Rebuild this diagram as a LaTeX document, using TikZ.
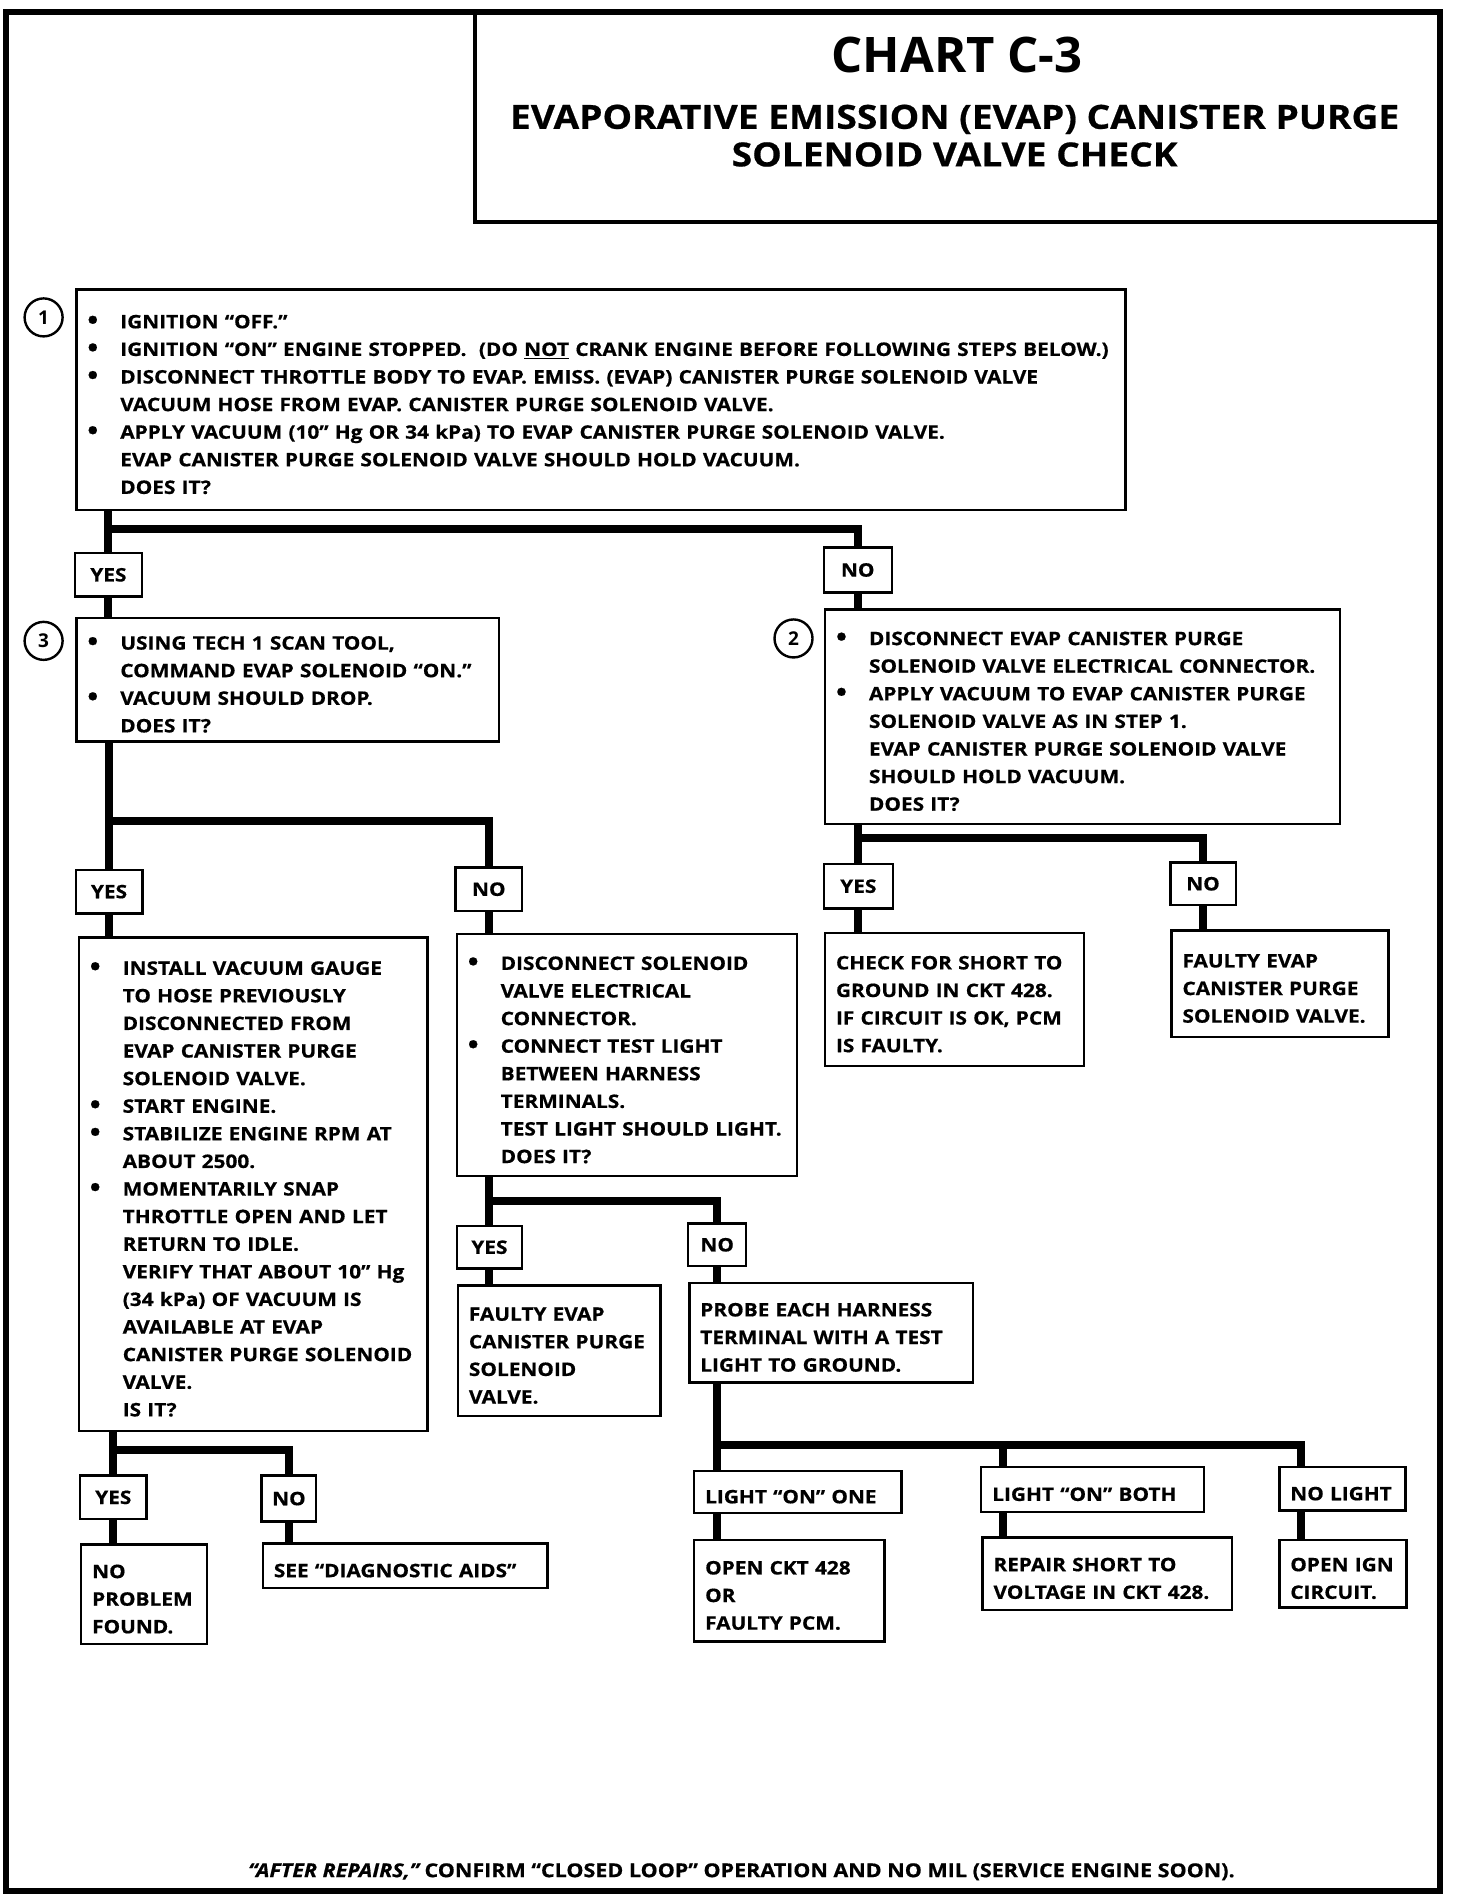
\documentclass[tikz,border=0pt]{standalone}
\usepackage{fontspec}
\setmainfont{Open Sans}
\newfontfamily\widefont{Open Sans}[FakeStretch=1.12, FakeBold=0.6]
\usetikzlibrary{calc}

\tikzset{
  stepbox/.style={draw, line width=1.2pt, anchor=north west, align=left, inner xsep=5.5pt, inner ysep=0pt, font=\widefont\bfseries\fontsize{9.3}{13.8}\selectfont, execute at begin node={\leavevmode\rule{0pt}{11.5pt}}},
  answer/.style={draw, line width=1.2pt, minimum height=21.8pt, minimum width=33.3pt, inner sep=0pt, font=\widefont\bfseries\fontsize{9.3}{11}\selectfont},
  stepno/.style={circle, draw, line width=1.2pt, minimum size=19pt, inner sep=0pt, font=\bfseries\fontsize{9.5}{11}\selectfont},
  conn/.style={line width=4pt}
}
\newcommand{\bulmark}{\makebox[16.5pt][l]{\raisebox{-0.5pt}{\fontsize{13}{13}\selectfont\textbullet}}}
\newcommand{\bl}[1]{\mbox{\bulmark#1}}
\newcommand{\il}[1]{\mbox{\hspace*{16.5pt}#1}}
\newcommand{\pl}[1]{\mbox{#1}}

\begin{document}
\begin{tikzpicture}[x=0.6057pt, y=-0.6057pt]
\useasboundingbox (0,0) rectangle (1202,1570);
% Frame and title
\draw[line width=3pt] (5,10) rectangle (1189,1561);
\draw[line width=2pt] (392,10) |- (1189,183);
\node[font=\bfseries\fontsize{24.5}{28}\selectfont] (chart) at (790,45) {CHART C-3};
\node[align=center, font=\widefont\bfseries\fontsize{16.6}{18.8}\selectfont] (title) at (788,112) {EVAPORATIVE EMISSION (EVAP) CANISTER PURGE\\SOLENOID VALVE CHECK};

% Step 1
\node[stepno] (n1) at (36,262) {1};
\node[stepbox, text width=513.5pt, minimum height=110.2pt] (s1) at (62,238) {%
\bl{IGNITION “OFF.”}\\
\bl{IGNITION “ON” ENGINE STOPPED.\ \ (DO \underline{NOT} CRANK ENGINE BEFORE FOLLOWING STEPS BELOW.)}\\
\bl{DISCONNECT THROTTLE BODY TO EVAP. EMISS. (EVAP) CANISTER PURGE SOLENOID VALVE}\\
\il{VACUUM HOSE FROM EVAP. CANISTER PURGE SOLENOID VALVE.}\\
\bl{APPLY VACUUM (10” Hg OR 34 kPa) TO EVAP CANISTER PURGE SOLENOID VALVE.}\\
\il{EVAP CANISTER PURGE SOLENOID VALVE SHOULD HOLD VACUUM.}\\
\il{DOES IT?}};
\node[answer] (yes1) at (89.5,474.5) {YES};
\node[answer, minimum width=34pt, minimum height=22.4pt] (no1) at (708,470.5) {NO};
\coordinate (j1) at (89.5,437);
\draw[conn] (s1.south -| yes1) -- (yes1.north);
\draw[conn] (j1) -| (no1.north);

% Step 3
\node[stepno] (n3) at (36,529) {3};
\node[stepbox, text width=200.4pt, minimum height=61.8pt] (s3) at (62,509) {%
\bl{USING TECH 1 SCAN TOOL,}\\
\il{COMMAND EVAP SOLENOID “ON.”}\\
\bl{VACUUM SHOULD DROP.}\\
\il{DOES IT?}};
\draw[conn] (yes1.south) -- (s3.north -| yes1);

% Step 2
\node[stepno] (n2) at (655,527) {2};
\node[stepbox, text width=246.4pt, minimum height=107.2pt] (s2) at (680,502) {%
\bl{DISCONNECT EVAP CANISTER PURGE}\\
\il{SOLENOID VALVE ELECTRICAL CONNECTOR.}\\
\bl{APPLY VACUUM TO EVAP CANISTER PURGE}\\
\il{SOLENOID VALVE AS IN STEP 1.}\\
\il{EVAP CANISTER PURGE SOLENOID VALVE}\\
\il{SHOULD HOLD VACUUM.}\\
\il{DOES IT?}};
\draw[conn] (no1.south) -- (s2.north -| no1);

% Step 3 answers
\node[answer] (yes3) at (90,736) {YES};
\node[answer] (no3) at (403.5,734) {NO};
\coordinate (j3) at (90,678);
\draw[conn] (s3.south -| yes3) -- (yes3.north);
\draw[conn] (j3) -| (no3.north);
\node[stepbox, text width=163.4pt, minimum height=246.5pt] (vac) at (64,773) {%
\bl{INSTALL VACUUM GAUGE}\\
\il{TO HOSE PREVIOUSLY}\\
\il{DISCONNECTED FROM}\\
\il{EVAP CANISTER PURGE}\\
\il{SOLENOID VALVE.}\\
\bl{START ENGINE.}\\
\bl{STABILIZE ENGINE RPM AT}\\
\il{ABOUT 2500.}\\
\bl{MOMENTARILY SNAP}\\
\il{THROTTLE OPEN AND LET}\\
\il{RETURN TO IDLE.}\\
\il{VERIFY THAT ABOUT 10” Hg}\\
\il{(34 kPa) OF VACUUM IS}\\
\il{AVAILABLE AT EVAP}\\
\il{CANISTER PURGE SOLENOID}\\
\il{VALVE.}\\
\il{IS IT?}};
\node[stepbox, text width=159.2pt, minimum height=121.1pt] (lamp) at (376,770) {%
\bl{DISCONNECT SOLENOID}\\
\il{VALVE ELECTRICAL}\\
\il{CONNECTOR.}\\
\bl{CONNECT TEST LIGHT}\\
\il{BETWEEN HARNESS}\\
\il{TERMINALS.}\\
\il{TEST LIGHT SHOULD LIGHT.}\\
\il{DOES IT?}};
\draw[conn] (yes3.south) -- (vac.north -| yes3);
\draw[conn] (no3.south) -- (lamp.north -| no3);

% Step 2 answers
\node[answer, minimum width=34.5pt, minimum height=22.4pt] (yes2) at (708.5,731.5) {YES};
\node[answer, minimum width=32.7pt, minimum height=21.2pt] (no2) at (993,729.5) {NO};
\coordinate (j2) at (708.5,692);
\draw[conn] (s2.south -| yes2) -- (yes2.north);
\draw[conn] (j2) -| (no2.north);
\node[stepbox, text width=118.6pt, minimum height=66.6pt] (short) at (680,769) {%
\pl{CHECK FOR SHORT TO}\\
\pl{GROUND IN CKT 428.}\\
\pl{IF CIRCUIT IS OK, PCM}\\
\pl{IS FAULTY.}};
\node[stepbox, text width=97.4pt, minimum height=53.3pt] (valve2) at (966,767) {%
\pl{FAULTY EVAP}\\
\pl{CANISTER PURGE}\\
\pl{SOLENOID VALVE.}};
\draw[conn] (yes2.south) -- (short.north -| yes2);
\draw[conn] (no2.south) -- (valve2.north -| no2);

% Test light answers
\node[answer, minimum width=32.7pt, minimum height=21.2pt] (yesl) at (404,1029.5) {YES};
\node[answer, minimum width=29pt, minimum height=21.2pt] (nol) at (592,1027.5) {NO};
\coordinate (jl) at (404,991);
\draw[conn] (lamp.south -| yesl) -- (yesl.north);
\draw[conn] (jl) -| (nol.north);
\node[stepbox, text width=90.2pt, minimum height=65.4pt] (valve3) at (377,1060) {%
\pl{FAULTY EVAP}\\
\pl{CANISTER PURGE}\\
\pl{SOLENOID}\\
\pl{VALVE.}};
\node[stepbox, text width=130.7pt, minimum height=49.7pt] (probe) at (568,1058) {%
\pl{PROBE EACH HARNESS}\\
\pl{TERMINAL WITH A TEST}\\
\pl{LIGHT TO GROUND.}};
\draw[conn] (yesl.south) -- (valve3.north -| yesl);
\draw[conn] (nol.south) -- (probe.north -| nol);

% Probe results
\node[stepbox, text width=92.6pt, minimum height=21.2pt] (one) at (572,1213) {\pl{LIGHT “ON” ONE}};
\node[stepbox, text width=100.4pt, minimum height=22.4pt] (both) at (809,1210) {\pl{LIGHT “ON” BOTH}};
\node[stepbox, text width=52pt, minimum height=21.8pt] (none) at (1055,1210) {\pl{NO LIGHT}};
\coordinate (d1) at (592,1193);
\coordinate (d2) at (828,1193);
\coordinate (d3) at (1074,1193);
\draw[conn] (probe.south -| d1) -- (one.north -| d1);
\draw[conn] (d1) -| (none.north -| d3);
\draw[conn] (d2) -- (both.north -| d2);
\node[stepbox, text width=84.1pt, minimum height=50.9pt] (open) at (572,1270) {%
\pl{OPEN CKT 428}\\
\pl{OR}\\
\pl{FAULTY PCM.}};
\node[stepbox, text width=113.8pt, minimum height=36.3pt] (repair) at (810,1268) {%
\pl{REPAIR SHORT TO}\\
\pl{VOLTAGE IN CKT 428.}};
\node[stepbox, text width=52.6pt, minimum height=33.9pt] (ign) at (1055,1270) {%
\pl{OPEN IGN}\\
\pl{CIRCUIT.}};
\draw[conn] (one.south -| d1) -- (open.north -| d1);
\draw[conn] (both.south -| d2) -- (repair.north -| d2);
\draw[conn] (none.south -| d3) -- (ign.north -| d3);

% Vacuum answers
\node[answer] (yesv) at (93.5,1236) {YES};
\node[answer, minimum width=27.3pt, minimum height=23pt] (nov) at (238.5,1237) {NO};
\coordinate (jv) at (93.5,1197);
\draw[conn] (vac.south -| yesv) -- (yesv.north);
\draw[conn] (jv) -| (nov.north);
\node[stepbox, text width=52pt, minimum height=49.7pt] (found) at (66,1274) {%
\pl{NO}\\
\pl{PROBLEM}\\
\pl{FOUND.}};
\node[stepbox, text width=131.3pt, minimum height=22.4pt] (aids) at (216,1273) {\pl{SEE “DIAGNOSTIC AIDS”}};
\draw[conn] (yesv.south) -- (found.north -| yesv);
\draw[conn] (nov.south) -- (aids.north -| nov);

% Footer
\node[font=\widefont\bfseries\fontsize{9.6}{11}\selectfont] (footer) at (612,1545) {{\itshape “AFTER REPAIRS,”} CONFIRM “CLOSED LOOP” OPERATION AND NO MIL (SERVICE ENGINE SOON).};
\end{tikzpicture}
\end{document}
